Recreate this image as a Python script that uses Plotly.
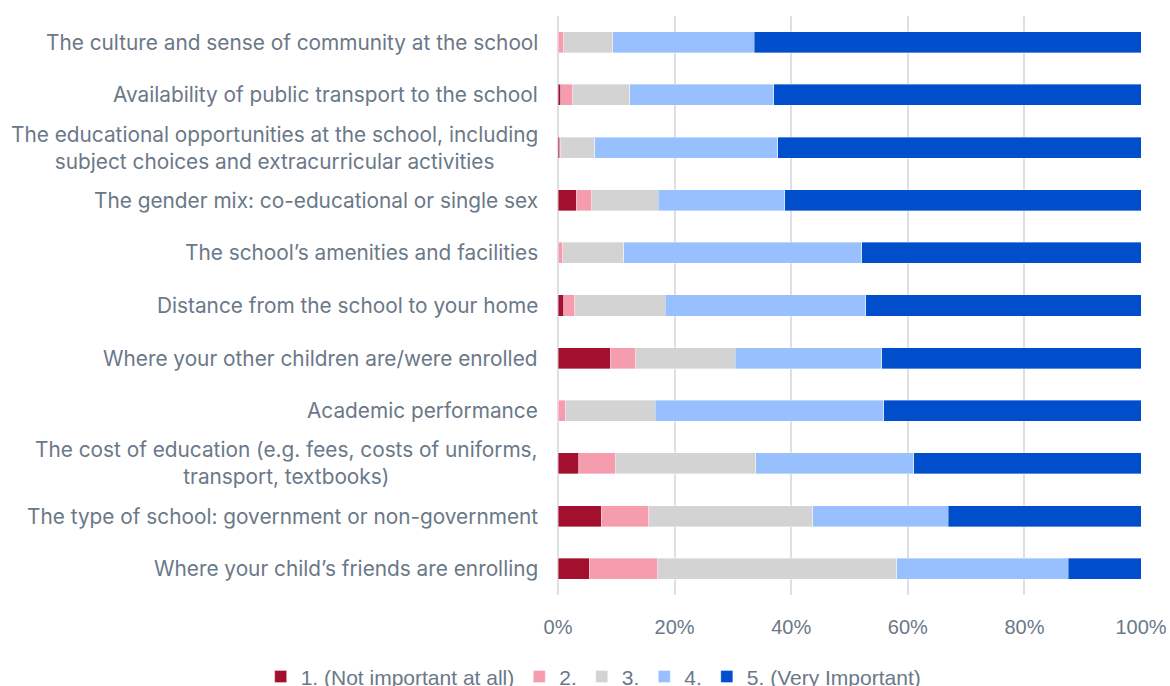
import plotly.graph_objects as go

# Survey factors, listed top to bottom
factors = [
    "The culture and sense of community at the school",
    "Availability of public transport to the school",
    "The educational opportunities at the school, including<br>subject choices and extracurricular activities",
    "The gender mix: co-educational or single sex",
    "The school\u2019s amenities and facilities",
    "Distance from the school to your home",
    "Where your other children are/were enrolled",
    "Academic performance",
    "The cost of education (e.g. fees, costs of uniforms,<br>transport, textbooks)",
    "The type of school: government or non-government",
    "Where your child\u2019s friends are enrolling",
]

# Share of responses (%) for each importance rating
not_important = [0.0, 0.5, 0.3, 3.1, 0.0, 1.0, 9.0, 0.0, 3.6, 7.4, 5.4]
rating_2 = [1.0, 2.0, 0.2, 2.7, 0.8, 1.9, 4.3, 1.2, 6.2, 8.2, 11.7]
rating_3 = [8.4, 9.8, 5.8, 11.4, 10.5, 15.5, 17.1, 15.5, 24.1, 28.1, 41.0]
rating_4 = [24.3, 24.7, 31.4, 21.7, 40.8, 34.4, 25.1, 39.2, 27.1, 23.2, 29.4]
very_important = [66.3, 63.0, 62.3, 61.1, 47.9, 47.2, 44.5, 44.1, 39.0, 33.1, 12.5]

series_names = ["1. (Not important at all)", "2.", "3.", "4.", "5. (Very Important)"]
series_values = [not_important, rating_2, rating_3, rating_4, very_important]
series_colors = ["#A3102F", "#F59DAE", "#D3D3D3", "#99C0FE", "#004ECB"]

text_color = "#6A7888"
label_font = "Inter, 'Open Sans', sans-serif"
num_font = "'Liberation Sans', Arial, sans-serif"

fig = go.Figure()
for name, vals, col in zip(series_names, series_values, series_colors):
    fig.add_trace(go.Bar(
        y=factors, x=vals, name=name, orientation="h",
        marker=dict(color=col, line=dict(color="rgba(255,255,255,0.45)", width=0.8)),
    ))

# Category labels as centred multi-line annotations left of the axis
for f in factors:
    fig.add_annotation(
        x=0, xref="paper", y=f, yref="y", text=f, showarrow=False,
        xanchor="right", xshift=-18, align="center",
        font=dict(family=label_font, size=20.8, color=text_color),
    )

fig.update_layout(
    width=1170, height=686,
    margin=dict(l=558, r=29, t=16, b=91, autoexpand=False),
    barmode="stack", bargap=0.6,
    plot_bgcolor="white", paper_bgcolor="white",
    xaxis=dict(
        range=[0, 100], dtick=20, ticksuffix="%",
        showgrid=True, gridcolor="#DCE0E5", gridwidth=2,
        zeroline=True, zerolinecolor="#DCE0E5", zerolinewidth=2,
        ticks="outside", ticklen=14, tickcolor="rgba(0,0,0,0)",
        tickfont=dict(family=num_font, size=20, color=text_color),
    ),
    yaxis=dict(
        autorange="reversed", showticklabels=False, showgrid=False,
        ticks="",
    ),
    legend=dict(
        orientation="h", traceorder="normal",
        x=-0.51, xanchor="left", y=-0.106, yanchor="top",
        font=dict(family=num_font, size=21, color=text_color),
        itemwidth=30, tracegroupgap=0,
    ),
    showlegend=True,
)

fig.write_html("out.html")
